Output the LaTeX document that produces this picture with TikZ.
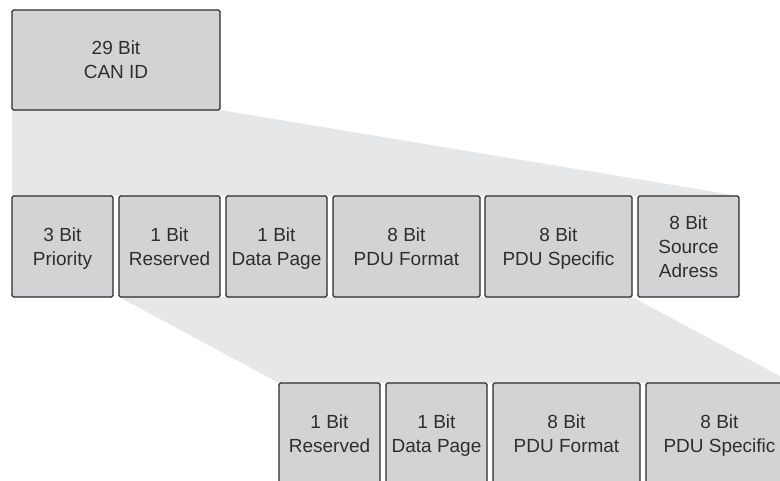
\documentclass[tikz,border=0pt]{standalone}
\usepackage{fontspec}
\setmainfont{Liberation Sans}
\usetikzlibrary{backgrounds}
\definecolor{boxfill}{HTML}{D3D3D5}
\definecolor{fanfill}{HTML}{E6E7E9}
\definecolor{boxline}{HTML}{2B2B2B}
\definecolor{txt}{HTML}{2E2E2E}
\tikzset{
  field/.style={draw=boxline, fill=boxfill, line width=1.1pt, rounded corners=1.5pt,
    anchor=north west, inner sep=0pt, outer sep=0pt, minimum height=101pt,
    align=center, text=txt, font=\fontsize{19}{24}\selectfont,
    % centre from cap height of the first line to the last baseline
    execute at begin node={\rule{0pt}{13.6pt}}, text depth=0pt},
  narrow/.style={field, minimum width=101pt},
  wide/.style={field, minimum width=147pt},
  fan/.style={fill=fanfill, draw=none}
}
\begin{document}
\begin{tikzpicture}[x=1pt,y=-1pt]
\useasboundingbox (0,0) rectangle (780,480);
\clip (0,0) rectangle (780,480);
% whole identifier
\node[field, minimum width=208pt, minimum height=100pt] (canid) at (12,10) {29 Bit\\CAN ID};
% split into its fields
\node[narrow] (prio) at (12,196) {3 Bit\\Priority};
\node[narrow] (res)  at (119,196) {1 Bit\\Reserved};
\node[narrow] (dp)   at (226,196) {1 Bit\\Data Page};
\node[wide]   (pf)   at (333,196) {8 Bit\\PDU Format};
\node[wide]   (ps)   at (485,196) {8 Bit\\PDU Specific};
\node[narrow] (sa)   at (638,196) {8 Bit\\Source\\Adress};
% parameter group number
\node[narrow] (bres) at (279,383) {1 Bit\\Reserved};
\node[narrow] (bdp)  at (386,383) {1 Bit\\Data Page};
\node[wide]   (bpf)  at (493,383) {8 Bit\\PDU Format};
\node[wide]   (bps)  at (646,383) {8 Bit\\PDU Specific};
\begin{pgfonlayer}{background}
  \fill[fan] (canid.south west) -- (canid.south east) -- (sa.north east) -- (prio.north west) -- cycle;
  \fill[fan] (res.south west) -- (ps.south east) -- (bps.north east) -- (bres.north west) -- cycle;
\end{pgfonlayer}
\end{tikzpicture}
\end{document}
